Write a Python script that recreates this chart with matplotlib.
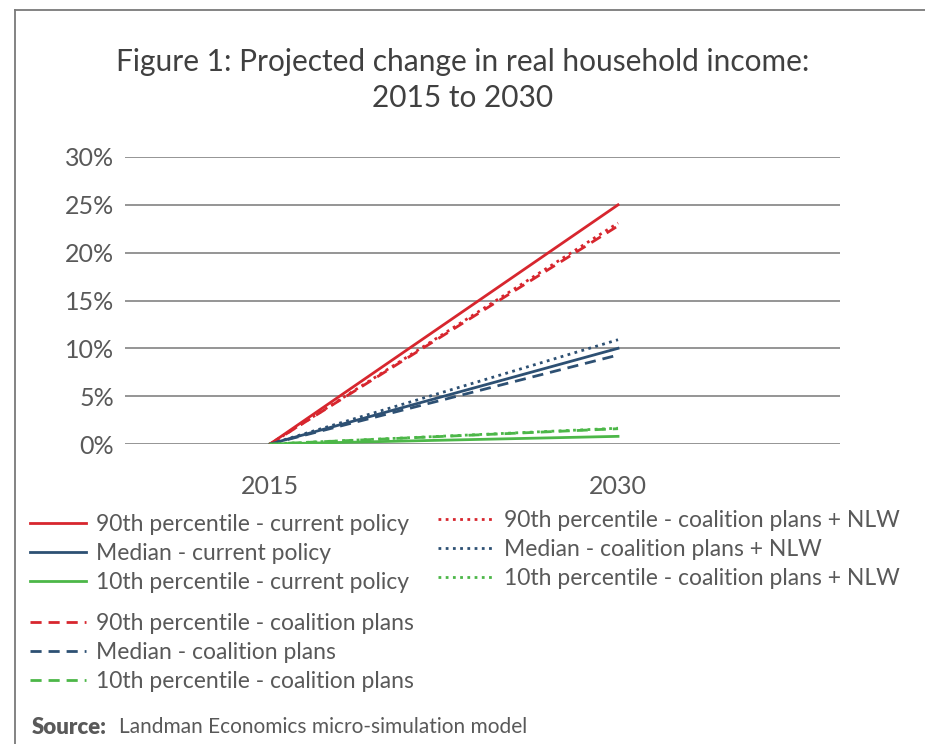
import matplotlib.pyplot as plt
from matplotlib.lines import Line2D

# Projected change in real household income, 2015 -> 2030
years = ['2015', '2030']
p90_current = [0.0, 25.0]
median_current = [0.0, 10.0]
p10_current = [0.0, 0.8]
p90_coalition = [0.0, 22.8]
median_coalition = [0.0, 9.3]
p10_coalition = [0.0, 1.6]
p90_nlw = [0.0, 23.1]
median_nlw = [0.0, 10.9]
p10_nlw = [0.0, 1.65]

red = '#d7262e'
blue = '#2d5073'
green = '#4cb748'
grey_text = '#595959'

plt.rcParams['font.family'] = ['Lato', 'DejaVu Sans']

fig = plt.figure(figsize=(9.25, 7.44), dpi=100)
ax = fig.add_axes([125 / 925, 1 - 444 / 744, 715 / 925, 287 / 744])

x = list(range(len(years)))
lw = 2.0
solid = []
solid.append(ax.plot(x, p90_current, color=red, lw=lw, label='90th percentile - current policy')[0])
solid.append(ax.plot(x, median_current, color=blue, lw=lw, label='Median - current policy')[0])
solid.append(ax.plot(x, p10_current, color=green, lw=lw, label='10th percentile - current policy')[0])
dashed = []
dashed.append(ax.plot(x, p90_coalition, color=red, lw=lw, ls=(0, (4, 2.5)), label='90th percentile - coalition plans')[0])
dashed.append(ax.plot(x, median_coalition, color=blue, lw=lw, ls=(0, (4, 2.5)), label='Median - coalition plans')[0])
dashed.append(ax.plot(x, p10_coalition, color=green, lw=lw, ls=(0, (4, 2.5)), label='10th percentile - coalition plans')[0])
dotted = []
dotted.append(ax.plot(x, p90_nlw, color=red, lw=lw, ls=(0, (1, 1.6)), label='90th percentile - coalition plans + NLW')[0])
dotted.append(ax.plot(x, median_nlw, color=blue, lw=lw, ls=(0, (1, 1.6)), label='Median - coalition plans + NLW')[0])
dotted.append(ax.plot(x, p10_nlw, color=green, lw=lw, ls=(0, (1, 1.6)), label='10th percentile - coalition plans + NLW')[0])

ax.set_xlim(-0.417, 1.638)
ax.set_ylim(0, 30)
ax.set_yticks(range(0, 31, 5))
ax.set_yticklabels([f'{v}%' for v in range(0, 31, 5)])
ax.set_xticks(x)
ax.set_xticklabels(years)
ax.yaxis.grid(True, color='#8c8c8c', lw=1.3)
ax.set_axisbelow(True)
for s in ax.spines.values():
    s.set_visible(False)
ax.tick_params(length=0, labelsize=18, colors=grey_text)
ax.tick_params(axis='y', pad=8)
ax.tick_params(axis='x', pad=22)

fig.text(0.5, 1 - 80 / 744, 'Figure 1: Projected change in real household income:\n2015 to 2030',
         ha='center', va='center', fontsize=21.5, color='#404040', linespacing=1.35)

leg_kw = dict(frameon=False, fontsize=16.5, labelcolor=grey_text, handlelength=2.45,
              handletextpad=0.45, labelspacing=0.34, borderaxespad=0, borderpad=0)
leg1 = fig.legend(handles=solid, loc='upper left', bbox_to_anchor=(30 / 925, 1 - 514 / 744), **leg_kw)
leg2 = fig.legend(handles=dotted, loc='upper left', bbox_to_anchor=(438 / 925, 1 - 510 / 744), **leg_kw)
leg3 = fig.legend(handles=dashed, loc='upper left', bbox_to_anchor=(30 / 925, 1 - 613 / 744), **leg_kw)

fig.text(32 / 925, 1 - 727 / 744, 'Source:', fontsize=16, fontweight='heavy', color=grey_text, va='center')
fig.text(119 / 925, 1 - 727 / 744, 'Landman Economics micro-simulation model', fontsize=15,
         color=grey_text, va='center')

# outer box edges
fig.add_artist(Line2D([15 / 925, 15 / 925], [0, 1 - 10 / 744], color='#7a7a7a', lw=1.3))
fig.add_artist(Line2D([15 / 925, 1], [1 - 10 / 744, 1 - 10 / 744], color='#7a7a7a', lw=1.3))

fig.savefig('out.png', dpi=100)
